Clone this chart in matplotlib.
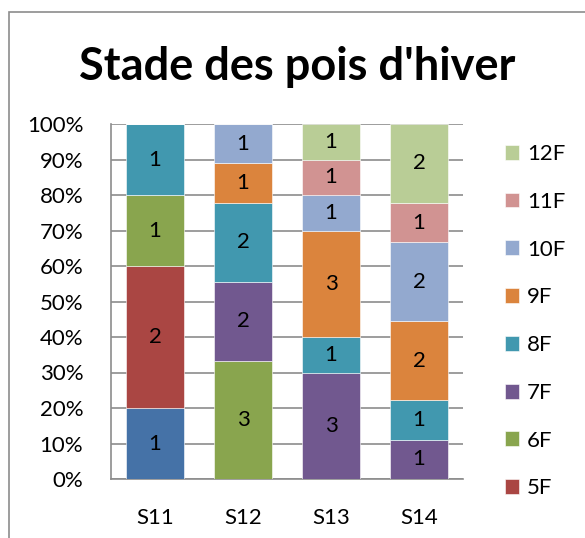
import numpy as np
import matplotlib.pyplot as plt
from matplotlib.patches import Rectangle
from matplotlib.ticker import FuncFormatter

plt.rcParams['font.family'] = ['Lato', 'DejaVu Sans']

# counts per stage for each sample
samples = ['S11', 'S12', 'S13', 'S14']
stages = ['4F', '5F', '6F', '7F', '8F', '9F', '10F', '11F', '12F']
counts = {
    '4F':  [1, 0, 0, 0],
    '5F':  [2, 0, 0, 0],
    '6F':  [1, 3, 0, 0],
    '7F':  [0, 2, 3, 1],
    '8F':  [1, 2, 1, 1],
    '9F':  [0, 1, 3, 2],
    '10F': [0, 1, 1, 2],
    '11F': [0, 0, 1, 1],
    '12F': [0, 0, 1, 2],
}
colors = {
    '4F': '#4572A7', '5F': '#AA4643', '6F': '#89A54E', '7F': '#71588F',
    '8F': '#4198AF', '9F': '#DB843D', '10F': '#93A9CF', '11F': '#D19392',
    '12F': '#B9CD96',
}

fig = plt.figure(figsize=(5.85, 5.38), dpi=100)
W, H = 585, 538
ax = fig.add_axes([111 / W, 1 - 479 / H, 352 / W, 355 / H])

totals = np.sum([counts[s] for s in stages], axis=0)
x = np.arange(len(samples))
bottom = np.zeros(len(samples))
handles = {}
for s in stages:
    vals = np.array(counts[s], dtype=float)
    frac = vals / totals
    bars = ax.bar(x, frac, bottom=bottom, width=0.65, color=colors[s],
                  edgecolor='white', linewidth=0.4, zorder=3, label=s)
    handles[s] = bars
    for xi, v, f, b in zip(x, vals, frac, bottom):
        if v > 0:
            ax.text(xi, b + f / 2, str(int(v)), ha='center', va='center',
                    fontsize=16, color='black', zorder=4)
    bottom += frac

ax.set_xlim(-0.5, 3.5)
ax.set_ylim(0, 1)
ax.set_yticks(np.arange(0, 1.01, 0.1))
ax.yaxis.set_major_formatter(FuncFormatter(lambda v, p: f'{int(round(v * 100))}%'))
ax.set_xticks(x)
ax.set_xticklabels(samples)
ax.tick_params(axis='both', labelsize=16, length=0)
ax.tick_params(axis='y', pad=20)
ax.tick_params(axis='x', pad=21)
ax.grid(axis='y', color='#8c8c8c', linewidth=1.2, zorder=0)
for side in ['top', 'right']:
    ax.spines[side].set_visible(False)
for side in ['left', 'bottom']:
    ax.spines[side].set_color('#8c8c8c')
    ax.spines[side].set_linewidth(1.2)

# title is centred on the whole chart, a bit right of the plot area
ax.set_title("Stade des pois d'hiver", fontsize=32.5, fontweight='bold',
             pad=32, x=0.53)

leg_order = ['12F', '11F', '10F', '9F', '8F', '7F', '6F', '5F']
fig.legend([handles[s] for s in leg_order], leg_order,
           loc='upper left', bbox_to_anchor=(485 / W, 1 - 124 / H),
           frameon=False, fontsize=16, handlelength=0.65, handleheight=0.65,
           labelspacing=1.25, handletextpad=0.35)

# outer chart frame (cut off on right and bottom)
fig.patches.append(Rectangle((8.5 / W, -0.1), 1.2, 1 - 12.5 / H + 0.1,
                             transform=fig.transFigure, fill=False,
                             edgecolor='#8c8c8c', linewidth=1.2))

fig.savefig('out.png', dpi=100)
